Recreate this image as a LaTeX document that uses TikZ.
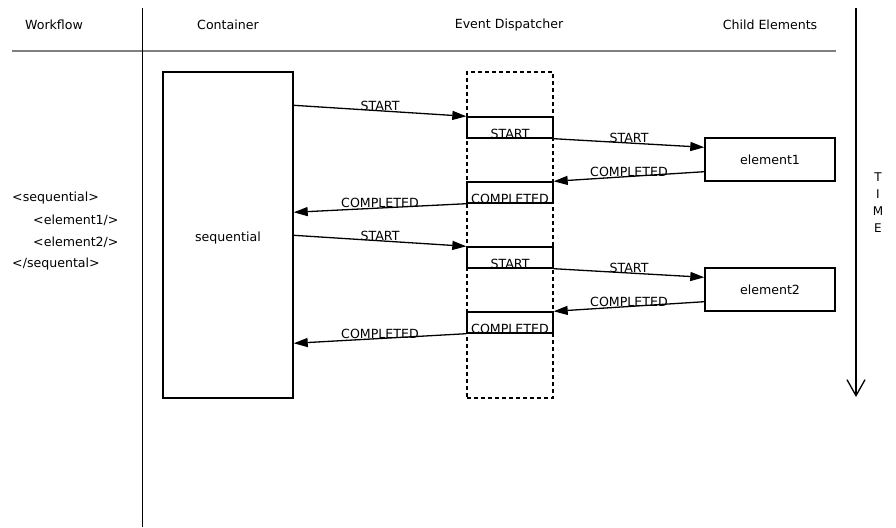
\documentclass[tikz,border=0pt]{standalone}
\usepackage{fontspec}
\setmainfont{DejaVu Sans}
\usetikzlibrary{arrows.meta}
\begin{document}
\begin{tikzpicture}[x=1pt,y=-1pt,
  font=\fontsize{12.6}{14}\selectfont,
  box/.style={draw,line width=1.4pt,inner sep=0pt,fill=white},
  msg/.style={line width=1.3pt,-{Triangle[length=14pt,width=9pt]}},
  lbl/.style={inner sep=0pt,midway,yshift=5pt},
  inlbl/.style={inner sep=0pt,anchor=base,yshift=0.5pt},
  head/.style={inner sep=0pt}]
\useasboundingbox (0,0) rectangle (896,527);

% column headers and separators
\node[head] (hwf) at (54,25) {Workflow};
\node[head] (hct) at (228,25) {Container};
\node[head] (hed) at (509,25) {Event Dispatcher};
\node[head] (hch) at (770,25) {Child Elements};
\coordinate (hl) at (12,51);
\coordinate (hr) at (836,51);
\draw[line width=1.6pt,gray] (hl) -- (hr);
\coordinate (vt) at (142,8);
\coordinate (vb) at (142,527);
\draw[line width=0.9pt] (vt) -- (vb);

% time axis
\coordinate (tt) at (856,8);
\coordinate (tb) at (856,397);
\draw[line width=1.3pt,-{Straight Barb[length=16pt,width=18pt,line width=1.3pt]}] (tt) -- (tb);
\node[inner sep=0pt,align=center,font=\fontsize{12}{17}\selectfont] (time) at (878,202.5) {T\\I\\M\\E};

% workflow markup
\node[anchor=west,inner sep=0pt] (x1) at (12,198) {<sequential>};
\node[anchor=west,inner sep=0pt] (x2) at (33,220) {<element1/>};
\node[anchor=west,inner sep=0pt] (x3) at (33,242) {<element2/>};
\node[anchor=west,inner sep=0pt] (x4) at (12,264) {</sequental>};

% container and dispatcher lanes
\node[box,minimum width=130pt,minimum height=326pt] (seq) at (228,235) {};
\node[inner sep=0pt] (seqlbl) at (228,238) {sequential};
\node[draw,dashed,line width=1.4pt,inner sep=0pt,minimum width=86pt,minimum height=326pt,dash pattern=on 4pt off 3pt] (disp) at (510,235) {};

% dispatcher event boxes
\node[box,minimum width=86pt,minimum height=21pt] (s1) at (510,127.5) {};
\node[box,minimum width=86pt,minimum height=21pt] (c1) at (510,192.5) {};
\node[box,minimum width=86pt,minimum height=21pt] (s2) at (510,257.5) {};
\node[box,minimum width=86pt,minimum height=21pt] (c2) at (510,322.5) {};
\node[inlbl] (s1t) at (s1.south) {START};
\node[inlbl] (c1t) at (c1.south) {COMPLETED};
\node[inlbl] (s2t) at (s2.south) {START};
\node[inlbl] (c2t) at (c2.south) {COMPLETED};

% child elements
\node[box,minimum width=130pt,minimum height=43pt] (e1) at (770,159.5) {element1};
\node[box,minimum width=130pt,minimum height=43pt] (e2) at (770,289.5) {element2};

% message flow
\draw[msg] ([yshift=-34pt]seq.north east) -- (s1.north west) node[lbl] {START};
\draw[msg] (s1.south east) -- ([yshift=-10pt]e1.north west) node[lbl] {START};
\draw[msg] ([yshift=10pt]e1.south west) -- (c1.north east) node[lbl] {COMPLETED};
\draw[msg] (c1.south west) -- ([yshift=-141pt]seq.north east) node[lbl] {COMPLETED};
\draw[msg] ([yshift=-164pt]seq.north east) -- (s2.north west) node[lbl] {START};
\draw[msg] (s2.south east) -- ([yshift=-10pt]e2.north west) node[lbl] {START};
\draw[msg] ([yshift=10pt]e2.south west) -- (c2.north east) node[lbl] {COMPLETED};
\draw[msg] (c2.south west) -- ([yshift=-272pt]seq.north east) node[lbl] {COMPLETED};
\end{tikzpicture}
\end{document}
